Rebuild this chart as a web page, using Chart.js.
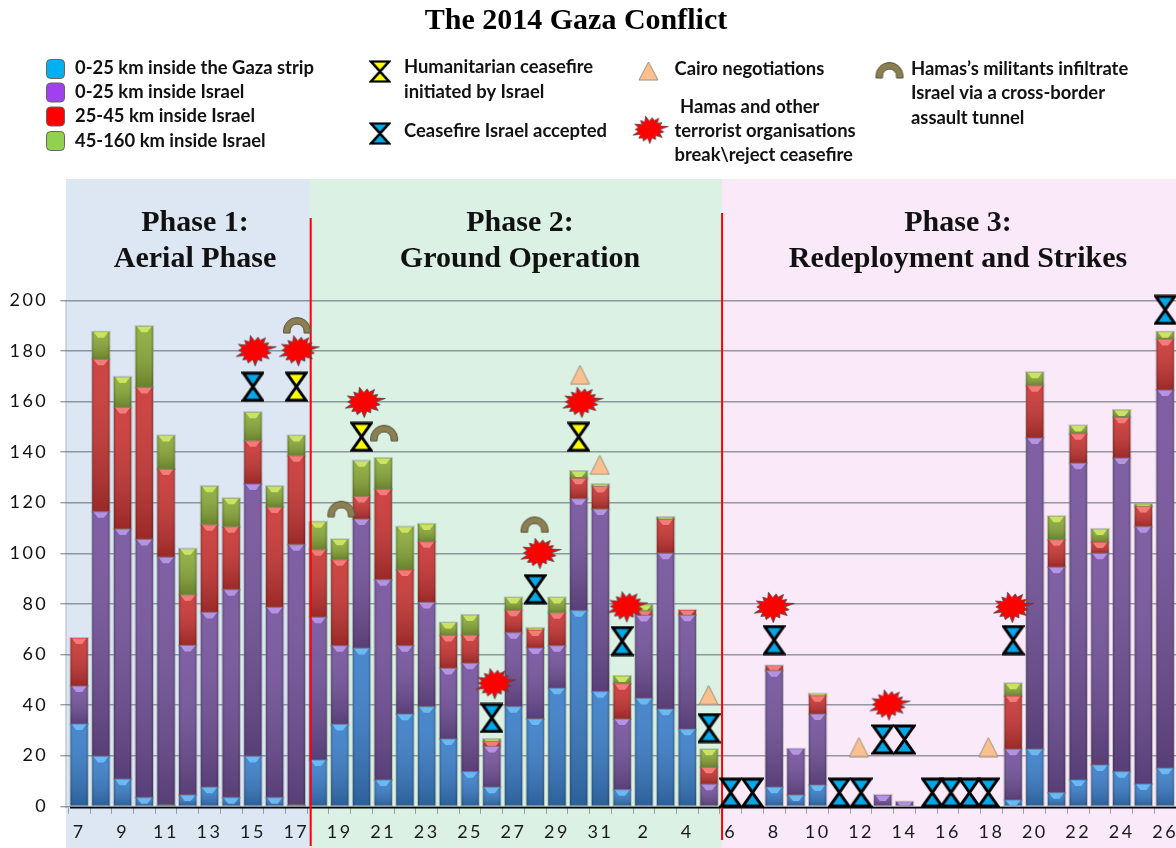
<!DOCTYPE html>
<html>
<head>
<meta charset="utf-8">
<title>The 2014 Gaza Conflict</title>
<script src="https://cdn.jsdelivr.net/npm/chart.js@4"></script>
<style>
    html, body { margin: 0; padding: 0; background: #fff; overflow: hidden; }
    #wrap { width: 1176px; height: 848px; position: relative; }
</style>
</head>
<body>
<div id="wrap"><canvas id="chart"></canvas></div>
<script>
// Days of the conflict, July 7 to August 26
const days = ['7','8','9','10','11','12','13','14','15','16','17','18','19','20','21','22','23','24','25','26','27','28','29','30','31',
    '1','2','3','4','5','6','7','8','9','10','11','12','13','14','15','16','17','18','19','20','21','22','23','24','25','26'];

// Rockets per day, by range
const gazaStrip = [32.5,19.7,10.7,3.4,0.5,4.5,7.5,3.4,19.7,3.4,0.5,18.3,32.3,62.4,10.4,36.4,39.3,26.6,13.6,7.5,39.3,34.5,46.6,77.3,45.3,
    6.5,42.6,38.3,30.4,0,0,0,7.5,4.5,8.4,0,0,0,0,0,0,0,0,2.5,22.5,5.3,10.4,16.3,13.6,8.8,15];
const israel0to25 = [15,96.7,98.9,102,97.9,59,69.1,82.2,107.7,75.2,102.9,56.4,31.1,51.1,79.1,27,41.2,27.9,42.9,16.1,29.3,28.1,16.8,44.2,72.2,
    28,32.8,61.7,45.1,8.7,0,0,46.1,18.2,28.1,0,0,4.5,1.8,0,0,0,0,20,123,89.2,125.2,83.7,124,101.7,149.5];
const israel25to45 = [19,60.3,48,60.1,34.9,20.1,34.7,24.9,17.1,39.7,35.1,26.7,34,8.9,35.8,30,24,13,11.2,2,8.9,7.1,13.1,8.1,8.9,
    13.9,1.9,13.5,2.1,6.7,0,0,2,0,7.2,0,0,0,0,0,0,0,0,21.1,20.7,10.8,11.6,4.4,16.1,8,20];
const israel45to160 = [0,10.8,12.1,24.2,13.2,18.2,15.2,11.2,11.2,8.2,8,11,8.1,14.2,12.3,17.1,7.1,5.1,7.9,1,5,0.8,6,2.9,0.9,
    3.1,2.3,0.8,0,7.1,0,0,0,0,0.8,0,0,0,0,0,0,0,0,5,5.3,9.3,3.3,5.2,2.9,1,3];

const yTicks = [0,20,40,60,80,100,120,140,160,180,200];

// Event markers as [day index, level on the y axis]
const humanitarianCeasefires = [[10,165.8],[13,146],[23,146]];
const acceptedCeasefires = [[8,165.8],[19,34.9],[21,85.8],[25,65.3],[29,30.9],[30,5.4],[31,5.4],[32,65.7],[35,5.4],[36,5.4],
    [37,26.4],[38,26.4],[39.28,5.4],[40.14,5.4],[40.99,5.4],[41.86,5.4],[43,65.7],[50,196.2]];
const brokenCeasefires = [[8.09,180.2],[10.08,180.2],[13.11,159.8],[23.13,159.8],[21.2,100.1],[19.12,48.6],[25.2,79],[31.94,78.8],[37.27,40.2],[42.95,78.8]];
const cairoTalks = [[35.9,23.4],[41.86,23.4],[28.98,44],[23.06,170.5],[23.97,134.9]];
const tunnelAttacks = [[10.03,190.2],[12.07,117.6],[14.04,147.6],[20.97,111.4]];

// Phases, the breaks are day indexes
const phaseBreaks = [10.66, 29.6];
const phaseColors = ['#dce7f3', '#daf1e4', '#f9e9f9'];

const seriesColors = ['#3a7ec9', '#74529c', '#c93533', '#8aaa38'];
const seriesGloss = ['#6cb8f2', '#b592e2', '#f27c78', '#cbe262'];

function newIcon(w, h) {
    const c = document.createElement('canvas');
    c.width = w;
    c.height = h;
    return c;
}

function hourglassIcon(color) {
    const c = newIcon(23, 31);
    const g = c.getContext('2d');
    g.lineWidth = 3;
    g.lineJoin = 'miter';
    g.strokeStyle = '#000';
    g.fillStyle = color;
    g.beginPath();
    g.moveTo(2, 2);
    g.lineTo(21, 2);
    g.lineTo(2, 29);
    g.lineTo(21, 29);
    g.closePath();
    g.fill();
    g.stroke();
    return c;
}

function burstIcon() {
    const c = newIcon(44, 34);
    const g = c.getContext('2d');
    const spikes = [1.14,0.9,1.0,0.86,1.08,0.92,0.88,1.04,0.86,1.0,0.9,1.06,0.9,0.98,0.86];
    const dents = [0.62,0.7,0.6,0.66,0.64,0.72,0.62,0.66,0.7,0.6,0.66,0.64,0.7,0.62,0.66];
    g.translate(22, 17);
    g.rotate(-0.16);
    g.beginPath();
    spikes.forEach(function(s, i) {
        const a = i / spikes.length * Math.PI * 2;
        const b = (i + 0.5) / spikes.length * Math.PI * 2;
        g.lineTo(Math.cos(a) * 19 * s, Math.sin(a) * 14.5 * s);
        g.lineTo(Math.cos(b) * 19 * dents[i], Math.sin(b) * 14.5 * dents[i]);
    });
    g.closePath();
    g.fillStyle = '#ff0000';
    g.fill();
    g.lineWidth = 0.7;
    g.strokeStyle = '#444';
    g.stroke();
    return c;
}

function triangleIcon() {
    const c = newIcon(21, 21);
    const g = c.getContext('2d');
    g.beginPath();
    g.moveTo(10.5, 1);
    g.lineTo(20, 20);
    g.lineTo(1, 20);
    g.closePath();
    g.fillStyle = '#fac090';
    g.fill();
    g.strokeStyle = '#a08c78';
    g.stroke();
    return c;
}

function archIcon() {
    const c = newIcon(30, 18);
    const g = c.getContext('2d');
    g.beginPath();
    g.arc(15, 15, 13.5, Math.PI, 0);
    g.lineTo(28.5, 17);
    g.lineTo(22, 17);
    g.lineTo(22, 15);
    g.arc(15, 15, 7, 0, Math.PI, true);
    g.lineTo(8, 17);
    g.lineTo(1.5, 17);
    g.closePath();
    g.fillStyle = '#8c7f52';
    g.fill();
    g.strokeStyle = '#55503a';
    g.stroke();
    return c;
}

const icons = {
    yellow: hourglassIcon('#ffff00'),
    blue: hourglassIcon('#00a8e8'),
    burst: burstIcon(),
    triangle: triangleIcon(),
    arch: archIcon()
};

// Phase backgrounds and the y axis line go under everything
const backdropPlugin = {
    id: 'backdrop',
    beforeDraw: function(chart) {
        const ctx = chart.ctx;
        const x = chart.scales.x;
        const edges = [66, x.getPixelForValue(phaseBreaks[0]), x.getPixelForValue(phaseBreaks[1]), 1176];
        ctx.save();
        phaseColors.forEach(function(color, i) {
            ctx.fillStyle = color;
            ctx.fillRect(edges[i], 179, edges[i + 1] - edges[i], 669);
        });
        ctx.strokeStyle = '#a9b7c4';
        ctx.lineWidth = 1;
        ctx.beginPath();
        ctx.moveTo(66, 300);
        ctx.lineTo(66, 808);
        ctx.stroke();
        ctx.restore();
        // wide digits on the axes
        ctx.letterSpacing = '2.5px';
    }
};

// Shading and the small bevel at the top of every bar segment
const glossPlugin = {
    id: 'gloss',
    afterDatasetDraw: function(chart, args) {
        const meta = args.meta;
        if (meta.type !== 'bar') return;
        const ctx = chart.ctx;
        const zero = chart.scales.y.getPixelForValue(0);
        const area = chart.chartArea;
        meta.data.forEach(function(bar) {
            const p = bar.getProps(['x', 'y', 'base', 'width'], true);
            const h = p.base - p.y;
            if (h < 0.5) return;
            const l = p.x - p.width / 2;
            const r = p.x + p.width / 2;
            ctx.save();
            if (Math.abs(p.base - zero) < 0.5) {
                ctx.fillStyle = seriesColors[args.index];
                ctx.fillRect(l, p.base - 0.5, p.width, 2.5);
            }
            let g = ctx.createLinearGradient(0, p.y, 0, p.base);
            g.addColorStop(0, 'rgba(255,255,255,0.08)');
            g.addColorStop(1, 'rgba(0,0,0,0.24)');
            ctx.fillStyle = g;
            ctx.fillRect(l, p.y, p.width, h);
            g = ctx.createLinearGradient(l, 0, r, 0);
            g.addColorStop(0, 'rgba(0,0,0,0.2)');
            g.addColorStop(0.14, 'rgba(0,0,0,0)');
            g.addColorStop(0.86, 'rgba(0,0,0,0)');
            g.addColorStop(1, 'rgba(0,0,0,0.2)');
            ctx.fillStyle = g;
            ctx.fillRect(l, p.y, p.width, h);
            ctx.beginPath();
            ctx.rect(l, p.y, p.width, h);
            ctx.clip();
            ctx.fillStyle = seriesGloss[args.index];
            ctx.beginPath();
            ctx.moveTo(l + 1.5, p.y + 0.5);
            ctx.lineTo(r - 1.5, p.y + 0.5);
            ctx.lineTo(p.x + 3, p.y + 6);
            ctx.lineTo(p.x - 3, p.y + 6);
            ctx.closePath();
            ctx.fill();
            ctx.restore();
            ctx.save();
            ctx.strokeStyle = 'rgba(120,130,120,0.4)';
            ctx.lineWidth = 1;
            ctx.strokeRect(l - 0.5, p.y - 0.5, p.width + 1, h + 1);
            ctx.restore();
        });

        // Blue is the last bar dataset to be painted: axis line and phase lines go over it
        if (args.index === 0) {
            const x = chart.scales.x;
            ctx.save();
            ctx.strokeStyle = '#000';
            ctx.lineWidth = 1.6;
            ctx.beginPath();
            ctx.moveTo(70, area.bottom);
            ctx.lineTo(1176, area.bottom);
            ctx.stroke();
            ctx.strokeStyle = '#ff0000';
            ctx.lineWidth = 2;
            [[phaseBreaks[0], 218, 846], [phaseBreaks[1], 213, 840]].forEach(function(line) {
                const px = x.getPixelForValue(line[0]);
                ctx.beginPath();
                ctx.moveTo(px, line[1]);
                ctx.lineTo(px, line[2]);
                ctx.stroke();
            });
            ctx.restore();
        }
    }
};

function putText(ctx, lines, font, color, align) {
    ctx.font = font;
    ctx.fillStyle = color;
    ctx.textAlign = align;
    ctx.textBaseline = 'middle';
    lines.forEach(function(l) {
        ctx.fillText(l[0], l[1], l[2]);
    });
}

// Title, phase names and the hand placed legend
const notesPlugin = {
    id: 'notes',
    afterDraw: function(chart) {
        const ctx = chart.ctx;
        ctx.save();
        ctx.letterSpacing = '0px';
        putText(ctx, [['The 2014 Gaza Conflict', 576, 21]], 'bold 30px "Liberation Serif"', '#000', 'center');
        putText(ctx, [
            ['Phase 1:', 195, 223], ['Aerial Phase', 195, 259],
            ['Phase 2:', 520, 223], ['Ground Operation', 520, 259],
            ['Phase 3:', 958, 223], ['Redeployment and Strikes', 958, 259]
        ], 'bold 30px "Liberation Serif"', '#111', 'center');

        const swatches = [['#00b0f0', 59.5], ['#a040f0', 83], ['#ff0000', 107], ['#92d050', 131.5]];
        swatches.forEach(function(s) {
            ctx.beginPath();
            ctx.roundRect(46.5, s[1], 18, 19, 4);
            ctx.fillStyle = s[0];
            ctx.fill();
            ctx.strokeStyle = '#666';
            ctx.lineWidth = 1;
            ctx.stroke();
        });

        putText(ctx, [
            ['0-25 km inside the Gaza strip', 75, 68],
            ['0-25 km inside Israel', 75, 92],
            ['25-45 km inside Israel', 75, 116],
            ['45-160 km inside Israel', 75, 141],
            ['Humanitarian ceasefire', 404, 67],
            ['initiated by Israel', 404, 92],
            ['Ceasefire Israel accepted', 404, 131],
            ['Cairo negotiations', 674.5, 69],
            ['Hamas and other', 680, 107],
            ['terrorist organisations', 674.5, 131],
            ['break\\reject ceasefire', 674.5, 155],
            ['Hamas\u2019s militants infiltrate', 911, 69],
            ['Israel via a cross-border', 911, 93],
            ['assault tunnel', 911, 118]
        ], 'bold 18.4px Lato', '#111', 'left');

        ctx.drawImage(icons.yellow, 369, 60, 22, 23);
        ctx.drawImage(icons.blue, 369, 122, 22, 23);
        ctx.drawImage(icons.triangle, 638, 61, 21, 20);
        ctx.drawImage(icons.burst, 630, 114, 39, 31);
        ctx.drawImage(icons.arch, 874.5, 61, 30, 18);
        ctx.restore();
    }
};

function markers(label, pairs, icon) {
    return {
        type: 'scatter',
        label: label,
        data: pairs.map(function(p) { return { x: p[0], y: p[1] }; }),
        parsing: false,
        xAxisID: 'x',
        yAxisID: 'y',
        pointStyle: icon,
        pointRadius: 10,
        clip: false,
        order: 0
    };
}

function barSeries(label, values, color) {
    return {
        type: 'bar',
        label: label,
        data: values,
        stack: 'rockets',
        backgroundColor: color,
        borderWidth: 0,
        barPercentage: 0.8,
        categoryPercentage: 1,
        xAxisID: 'x',
        yAxisID: 'y',
        order: 1
    };
}

new Chart(document.getElementById('chart'), {
    type: 'bar',
    data: {
        labels: days,
        datasets: [
            barSeries('0-25 km inside the Gaza strip', gazaStrip, seriesColors[0]),
            barSeries('0-25 km inside Israel', israel0to25, seriesColors[1]),
            barSeries('25-45 km inside Israel', israel25to45, seriesColors[2]),
            barSeries('45-160 km inside Israel', israel45to160, seriesColors[3]),
            markers('Humanitarian ceasefire initiated by Israel', humanitarianCeasefires, icons.yellow),
            markers('Ceasefire Israel accepted', acceptedCeasefires, icons.blue),
            markers('Hamas and other terrorist organisations break\\reject ceasefire', brokenCeasefires, icons.burst),
            markers('Cairo negotiations', cairoTalks, icons.triangle),
            markers('Hamas\u2019s militants infiltrate Israel via a cross-border assault tunnel', tunnelAttacks, icons.arch)
        ]
    },
    options: {
        responsive: true,
        maintainAspectRatio: false,
        animation: false,
        events: [],
        layout: { autoPadding: false, padding: { top: 179, left: 0, right: 0, bottom: 0 } },
        plugins: {
            legend: { display: false },
            title: { display: false },
            tooltip: { enabled: false }
        },
        scales: {
            x: {
                type: 'category',
                afterFit: function(s) {
                    s.height = 40.2;
                    s.paddingLeft = 0;
                    s.paddingRight = 0;
                },
                border: { display: false },
                grid: { drawOnChartArea: false, tickLength: 6, tickColor: 'rgba(90,95,100,0.55)', lineWidth: 1 },
                ticks: {
                    autoSkip: false,
                    maxRotation: 0,
                    minRotation: 0,
                    padding: 8,
                    color: '#1a1a1a',
                    font: { family: 'Lato', size: 18 },
                    callback: function(value, index) {
                        return index % 2 === 0 ? days[index] : '';
                    }
                }
            },
            y: {
                min: -0.6,
                max: 247.9,
                afterFit: function(s) { s.width = 68.3; },
                afterBuildTicks: function(s) {
                    s.ticks = yTicks.map(function(v) { return { value: v }; });
                },
                border: { display: false },
                grid: { color: 'rgba(85,95,105,0.6)', lineWidth: 1.4, tickLength: 8 },
                ticks: {
                    padding: 12,
                    color: '#111',
                    font: { family: 'Lato', size: 18 }
                }
            }
        }
    },
    plugins: [backdropPlugin, glossPlugin, notesPlugin]
});
</script>
</body>
</html>
